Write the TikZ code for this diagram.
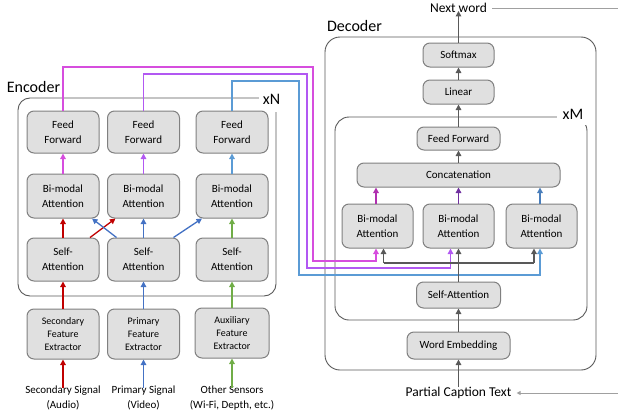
\documentclass[tikz,border=0pt]{standalone}
\usepackage{fontspec}
\setmainfont{Carlito}
\usetikzlibrary{arrows.meta,calc}
\definecolor{cred}{HTML}{C00000}
\definecolor{cblue}{HTML}{4472C4}
\definecolor{cgreen}{HTML}{70AD47}
\definecolor{cmag}{HTML}{D64DDE}
\definecolor{cvio}{HTML}{B258F2}
\definecolor{clblue}{HTML}{5B9BD5}
\definecolor{dmag}{HTML}{B030B0}
\definecolor{dvio}{HTML}{7030A0}
\definecolor{dblue}{HTML}{4A7EBB}
\definecolor{dgray}{HTML}{595959}
\definecolor{lgray}{HTML}{A0A0A0}
\definecolor{boxline}{HTML}{808080}
\definecolor{boxfill}{HTML}{E0E0E0}
\tikzset{
  blk/.style={draw=boxline, fill=boxfill, line width=1pt, rounded corners=7pt,
    inner sep=0pt, align=center, font=\fontsize{11}{15}\selectfont},
  fex/.style={blk, font=\fontsize{10}{13}\selectfont},
  container/.style={draw=dgray, line width=0.9pt},
  arr/.style={line width=1.3pt, -{Triangle[length=5.5pt,width=5.5pt]}},
  conn/.style={line width=1.3pt},
  lbl/.style={inner sep=0pt, align=center, font=\fontsize{11}{15}\selectfont},
  big/.style={inner sep=0pt, font=\fontsize{16}{18}\selectfont},
}
\begin{document}
\begin{tikzpicture}[x=1pt,y=-1pt]
\useasboundingbox (0,0) rectangle (618,415);
% containers
\draw[container, rounded corners=12pt] (18,98) rectangle (276,296);
\node[big, fill=white, minimum width=26pt, minimum height=26pt] (xn) at (271.5,99) {xN};
\node[big] (enc) at (33.5,87) {Encoder};
\draw[container, rounded corners=15pt] (325,37) rectangle (596,370);
\node[big] (dec) at (354.5,26) {Decoder};
\draw[container, rounded corners=14pt] (335,117) rectangle (587,320);
\node[big, fill=white, minimum width=32pt, minimum height=22pt] (xm) at (573,114) {xM};
% encoder nodes
\foreach \n/\x in {1/63,2/143.5,3/232}{
  \node[blk, minimum width=72pt, minimum height=42pt] (ff\n) at (\x,132) {Feed\\Forward};
  \node[blk, minimum width=72pt, minimum height=44pt] (bm\n) at (\x,196) {Bi-modal\\Attention};
  \node[blk, minimum width=72pt, minimum height=43pt] (sa\n) at (\x,259.5) {Self-\\Attention};
}
\node[fex, minimum width=72pt, minimum height=50pt] (fe1) at (63,334) {Secondary\\Feature\\Extractor};
\node[fex, minimum width=72pt, minimum height=50pt] (fe2) at (143.5,334) {Primary\\Feature\\Extractor};
\node[fex, minimum width=74pt, minimum height=50pt] (fe3) at (232,333) {Auxiliary\\Feature\\Extractor};
\node[lbl] (sig1) at (63,398) {Secondary Signal\\(Audio)};
\node[lbl] (sig2) at (143.5,398) {Primary Signal\\(Video)};
\node[lbl] (sig3) at (232,398) {Other Sensors\\(Wi-Fi, Depth, etc.)};
% decoder nodes
\node[inner sep=0pt, font=\fontsize{13.5}{16}\selectfont] (nw) at (458.5,8) {Next word};
\node[blk, minimum width=71pt, minimum height=24pt] (dsm) at (458.5,55) {Softmax};
\node[blk, minimum width=71pt, minimum height=24pt] (dlin) at (458.5,92) {Linear};
\node[blk, minimum width=83pt, minimum height=23pt] (dff) at (458.5,138.5) {Feed Forward};
\node[blk, minimum width=203pt, minimum height=24pt] (dcat) at (458.5,175) {Concatenation};
\node[blk, minimum width=71pt, minimum height=44pt] (dbm1) at (377.5,226) {Bi-modal\\Attention};
\node[blk, minimum width=71pt, minimum height=44pt] (dbm2) at (458.5,226) {Bi-modal\\Attention};
\node[blk, minimum width=71pt, minimum height=44pt] (dbm3) at (541.5,226) {Bi-modal\\Attention};
\node[blk, minimum width=84pt, minimum height=26pt] (dsa) at (458.5,295) {Self-Attention};
\node[blk, minimum width=103pt, minimum height=27pt] (dwe) at (458.5,345.5) {Word Embedding};
\node[inner sep=0pt, font=\fontsize{13.5}{16}\selectfont] (pct) at (458.5,393) {Partial Caption Text};
% encoder connectors
\draw[arr, cred] ([yshift=-2pt]sig1.north) -- (fe1.south);
\draw[arr, cblue] ([yshift=-2pt]sig2.north) -- (fe2.south);
\draw[arr, cgreen] ([yshift=-2pt]sig3.north) -- (fe3.south);
\draw[arr, cred] (fe1) -- (sa1);
\draw[arr, cblue] (fe2) -- (sa2);
\draw[arr, cgreen] (fe3) -- (sa3);
\draw[arr, cred] (sa1) -- (bm1);
\draw[arr, cblue] (sa2) -- (bm2);
\draw[arr, cgreen] (sa3) -- (bm3);
\draw[arr, cred] ($(sa1.north)+(27,0)$) -- ($(bm2.south)+(-28,0)$);
\draw[arr, cblue] ($(sa2.north)+(-27,0)$) -- ($(bm1.south)+(29,0)$);
\draw[arr, cblue] ($(sa2.north)+(30,0)$) -- ($(bm3.south)+(-30,0)$);
\draw[arr, cmag] (bm1) -- (ff1);
\draw[arr, cvio] (bm2) -- (ff2);
\draw[arr, clblue] (bm3) -- (ff3);
% encoder -> decoder
\coordinate (m1) at (376,261);
\coordinate (m2) at (450.5,268);
\coordinate (m3) at (540,275);
\draw[arr, cmag] (ff1.north) |- (313,67) |- (m1) -- (m1 |- dbm1.south);
\draw[arr, cvio] (ff2.north) |- (307,74) |- (m2) -- (m2 |- dbm2.south);
\draw[arr, clblue] (ff3.north) |- (299,81) |- (m3) -- (m3 |- dbm3.south);
% decoder connectors
\draw[arr, dgray] (pct.north) -- (dwe.south);
\draw[arr, dgray] (dwe) -- (dsa);
\draw[arr, dgray] (dsa) -- (dbm2);
\coordinate (g1) at (383.5,263);
\coordinate (g3) at (534,263);
\draw[conn, dgray] (g1) -- (g3);
\draw[arr, dgray] (g1) -- (g1 |- dbm1.south);
\draw[arr, dgray] (g3) -- (g3 |- dbm3.south);
\draw[arr, dmag] (dbm1.north -| m1) -- (dcat.south -| m1);
\draw[arr, dvio] (dbm2) -- (dcat);
\draw[arr, dblue] (dbm3.north -| m3) -- (dcat.south -| m3);
\draw[arr, dgray] (dcat) -- (dff);
\draw[arr, dgray] (dff) -- (dlin);
\draw[arr, dgray] (dlin) -- (dsm);
\draw[arr, dgray] (dsm) -- ([yshift=2pt]nw.south);
\draw[line width=1pt, lgray, -{Triangle[length=4pt,width=4pt]}] ([xshift=5pt]nw.east) -| (630,393) -- ([xshift=5pt]pct.east);
\end{tikzpicture}
\end{document}
